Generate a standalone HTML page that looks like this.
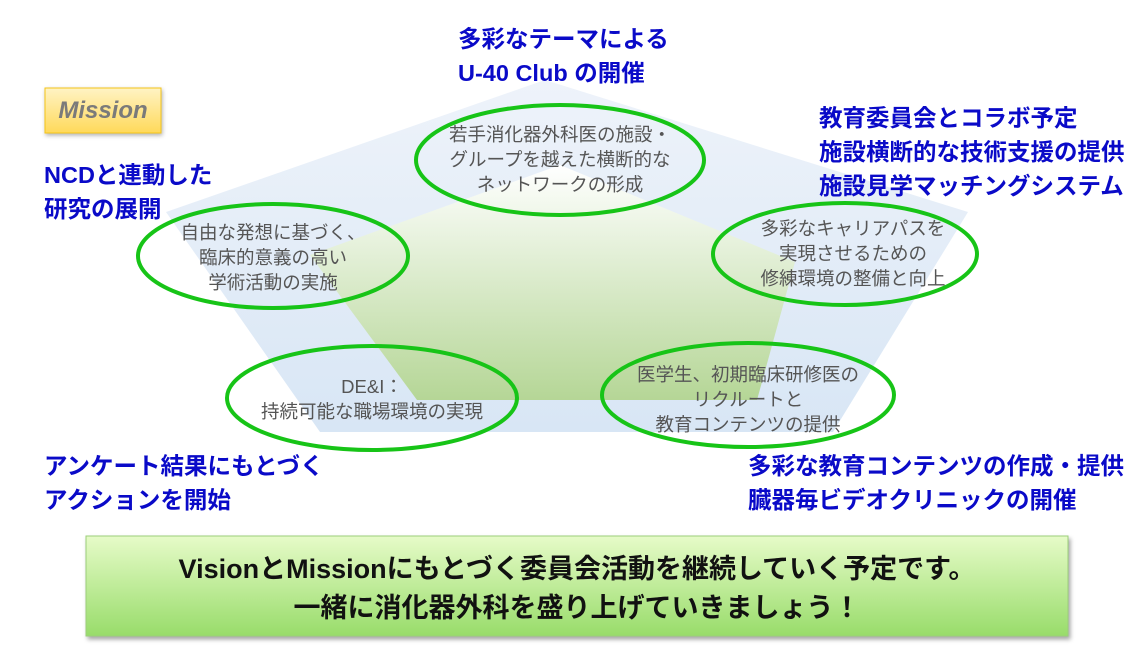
<!DOCTYPE html>
<html><head><meta charset="utf-8"><style>
body{margin:0;width:1147px;height:645px;background:#fff;position:relative;overflow:hidden;font-family:"Liberation Sans","Noto Sans CJK JP",sans-serif}
.h{position:absolute;color:#0a0ac8;font-weight:bold;font-size:23.5px;line-height:34px;white-space:nowrap}
.t{position:absolute;color:#555;font-size:18.5px;line-height:25px;text-align:center;white-space:nowrap}
</style></head><body>
<svg width="1147" height="645" style="position:absolute;left:0;top:0">
<defs>
<linearGradient id="b" x1="0" y1="0" x2="0" y2="1"><stop offset="0" stop-color="#eef3fa"/><stop offset="1" stop-color="#d8e6f5"/></linearGradient>
<linearGradient id="g" x1="0" y1="0" x2="0" y2="1"><stop offset="0" stop-color="#ffffff"/><stop offset="1" stop-color="#b5d696"/></linearGradient>
<linearGradient id="y" x1="0" y1="0" x2="0" y2="1"><stop offset="0" stop-color="#fff3c4"/><stop offset="1" stop-color="#ffd95a"/></linearGradient>
<linearGradient id="gb" x1="0" y1="0" x2="0" y2="1"><stop offset="0" stop-color="#e6fbc8"/><stop offset="1" stop-color="#98dc6a"/></linearGradient>
</defs>
<polygon points="545,80 968,212 833,432 320,432 166,212" fill="url(#b)"/>
<polygon points="560,165 795,262 757,400 417,400 310,255" fill="url(#g)"/>
<g fill="none" stroke="#17c417" stroke-width="4">
<ellipse cx="560" cy="160" rx="144" ry="55"/>
<ellipse cx="273" cy="256" rx="135" ry="52"/>
<ellipse cx="845" cy="254" rx="132" ry="51"/>
<ellipse cx="372" cy="398" rx="145" ry="52"/>
<ellipse cx="748" cy="395" rx="146" ry="52"/>
</g>
<rect x="86" y="536" width="982" height="100" fill="url(#gb)" stroke="#9ccf7a" style="filter:drop-shadow(2px 3px 2px rgba(0,0,0,.35))"/>
<rect x="45" y="88" width="116" height="45" fill="url(#y)" stroke="#f5c518" style="filter:drop-shadow(1px 2px 2px rgba(0,0,0,.3))"/>
</svg>
<div style="position:absolute;left:45px;top:88px;width:116px;height:45px;line-height:45px;text-align:center;font-style:italic;font-weight:bold;font-size:24px;color:#7a7a7a">Mission</div>
<div class="h" style="left:458px;top:22px">多彩なテーマによる<br>U-40 Club の開催</div>
<div class="h" style="left:44px;top:158px">NCDと連動した<br>研究の展開</div>
<div class="h" style="left:819px;top:101px">教育委員会とコラボ予定<br>施設横断的な技術支援の提供<br>施設見学マッチングシステム</div>
<div class="h" style="left:44px;top:449px">アンケート結果にもとづく<br>アクションを開始</div>
<div class="h" style="left:748px;top:449px">多彩な教育コンテンツの作成・提供<br>臓器毎ビデオクリニックの開催</div>
<div class="t" style="left:416px;top:122px;width:288px">若手消化器外科医の施設・<br>グループを越えた横断的な<br>ネットワークの形成</div>
<div class="t" style="left:138px;top:220px;width:270px">自由な発想に基づく、<br>臨床的意義の高い<br>学術活動の実施</div>
<div class="t" style="left:718px;top:216px;width:270px">多彩なキャリアパスを<br>実現させるための<br>修練環境の整備と向上</div>
<div class="t" style="left:228px;top:374px;width:288px">DE&amp;I：<br>持続可能な職場環境の実現</div>
<div class="t" style="left:602px;top:362px;width:292px">医学生、初期臨床研修医の<br>リクルートと<br>教育コンテンツの提供</div>
<div style="position:absolute;left:86px;top:550px;width:982px;text-align:center;font-weight:bold;font-size:27px;line-height:39px;color:#111">VisionとMissionにもとづく委員会活動を継続していく予定です。<br>一緒に消化器外科を盛り上げていきましょう！</div>
</body></html>
